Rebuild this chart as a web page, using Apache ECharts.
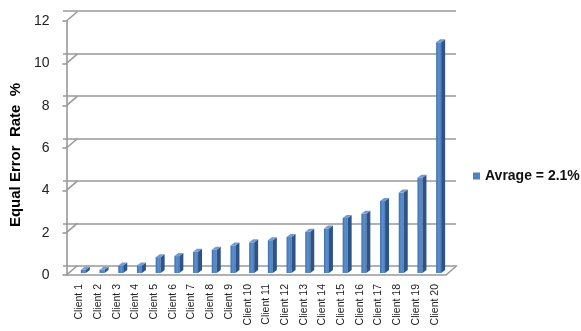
<!DOCTYPE html>
<html>
<head>
<meta charset="utf-8">
<script src="https://cdn.jsdelivr.net/npm/echarts@6/dist/echarts.min.js"></script>
<style>
  html, body { margin: 0; padding: 0; background: #fff; }
  #chart { width: 581px; height: 331px; }
</style>
</head>
<body>
<div id="chart"></div>
<script>
// 数据
const clients = ['Client 1', 'Client 2', 'Client 3', 'Client 4', 'Client 5', 'Client 6', 'Client 7',
  'Client 8', 'Client 9', 'Client 10', 'Client 11', 'Client 12', 'Client 13', 'Client 14',
  'Client 15', 'Client 16', 'Client 17', 'Client 18', 'Client 19', 'Client 20'];
const eerValues = [0.15, 0.15, 0.35, 0.35, 0.75, 0.8, 1.0, 1.1, 1.3, 1.45,
  1.55, 1.7, 1.95, 2.1, 2.6, 2.8, 3.4, 3.8, 4.5, 10.9];
const seriesName = 'Avrage = 2.1%';
const yTicks = [0, 2, 4, 6, 8, 10, 12];

// 3D 伪透视偏移
const DX = 11, DY = -9.5;
const gridColor = '#999999';
const font = 'Liberation Sans';

const chart = echarts.init(document.getElementById('chart'));

// 连接前后面的斜线: 每个刻度 + 地板右边
const connectorData = yTicks.map(v => [0, v]).concat([[1, 0]]);

const option = {
  animation: false,
  textStyle: { fontFamily: font },
  legend: {
    left: 468, top: 164,
    icon: 'rect', itemWidth: 7, itemHeight: 7, itemGap: 0,
    data: [seriesName],
    textStyle: { fontSize: 14, fontWeight: 'bold', color: '#111', fontFamily: font }
  },
  grid: [
    // 背面(网格线)
    { left: 63, top: 11, width: 393, height: 255 },
    // 正面(坐标轴)
    { left: 52, top: 21, width: 394, height: 254 },
    // 柱子
    { left: 76, top: 19, width: 374, height: 254 },
    // 类目标签
    { left: 70, top: 19, width: 374, height: 254 }
  ],
  xAxis: [
    { gridIndex: 0, type: 'value', min: 0, max: 1, show: false },
    { gridIndex: 1, type: 'value', min: 0, max: 1,
      axisLine: { show: true, lineStyle: { color: gridColor, width: 1.6 } },
      axisTick: { show: false }, axisLabel: { show: false }, splitLine: { show: false } },
    { gridIndex: 2, type: 'category', data: clients, show: false },
    { gridIndex: 3, type: 'category', data: clients,
      axisLine: { show: false }, axisTick: { show: false },
      axisLabel: { rotate: 90, margin: 11, fontSize: 10.5, color: '#222', interval: 0 } }
  ],
  yAxis: [
    { gridIndex: 0, type: 'value', min: 0, max: 12, interval: 2,
      axisLine: { show: false }, axisTick: { show: false }, axisLabel: { show: false },
      splitLine: { show: true, lineStyle: { color: gridColor, width: 1.6 } } },
    { gridIndex: 1, type: 'value', min: 0, max: 12, interval: 2,
      name: 'Equal Error  Rate  %', nameLocation: 'middle', nameGap: 33,
      nameTextStyle: { fontSize: 15, fontWeight: 'bold', color: '#000', fontFamily: font,
        padding: [0, 14, 0, 0] },
      axisLine: { show: true, lineStyle: { color: gridColor, width: 1.6 } },
      axisTick: { show: true, length: 4, lineStyle: { color: gridColor, width: 1.6 } },
      axisLabel: { fontSize: 14, color: '#222', margin: 17 },
      splitLine: { show: false } },
    { gridIndex: 2, type: 'value', min: 0, max: 12, show: false },
    { gridIndex: 3, type: 'value', min: 0, max: 12, show: false }
  ],
  series: [
    {
      // 前后连接线
      type: 'custom',
      xAxisIndex: 1, yAxisIndex: 1,
      silent: true,
      renderItem: function (params, api) {
        const p = api.coord([api.value(0), api.value(1)]);
        return {
          type: 'line',
          shape: { x1: p[0], y1: p[1], x2: p[0] + DX, y2: p[1] + DY },
          style: { stroke: gridColor, lineWidth: 1.6 }
        };
      },
      data: connectorData
    },
    {
      name: seriesName,
      type: 'custom',
      xAxisIndex: 2, yAxisIndex: 2,
      itemStyle: { color: '#4f81bd' },
      renderItem: function (params, api) {
        const b = api.coord([api.value(0), 0]);
        const t = api.coord([api.value(0), api.value(1)]);
        const cx = b[0], base = b[1], top = t[1];
        const fl = cx - 4.5, fr = cx + 0.5, sx = 4, sy = -3;
        return {
          type: 'group',
          children: [
            { type: 'rect', shape: { x: fl, y: top, width: fr - fl, height: base - top },
              style: { fill: new echarts.graphic.LinearGradient(0, 0, 1, 0, [
                { offset: 0, color: '#3f6fa8' }, { offset: 0.5, color: '#5b8fd0' }, { offset: 1, color: '#4a7ebb' }]) } },
            { type: 'polygon', shape: { points: [[fr, base], [fr, top], [fr + sx, top + sy], [fr + sx, base + sy]] },
              style: { fill: '#2e5486' } },
            { type: 'polygon', shape: { points: [[fl, top], [fr, top], [fr + sx, top + sy], [fl + sx, top + sy]] },
              style: { fill: '#6f9bd6' } }
          ]
        };
      },
      data: eerValues.map((v, i) => [i, v])
    }
  ]
};

chart.setOption(option);
</script>
</body>
</html>
